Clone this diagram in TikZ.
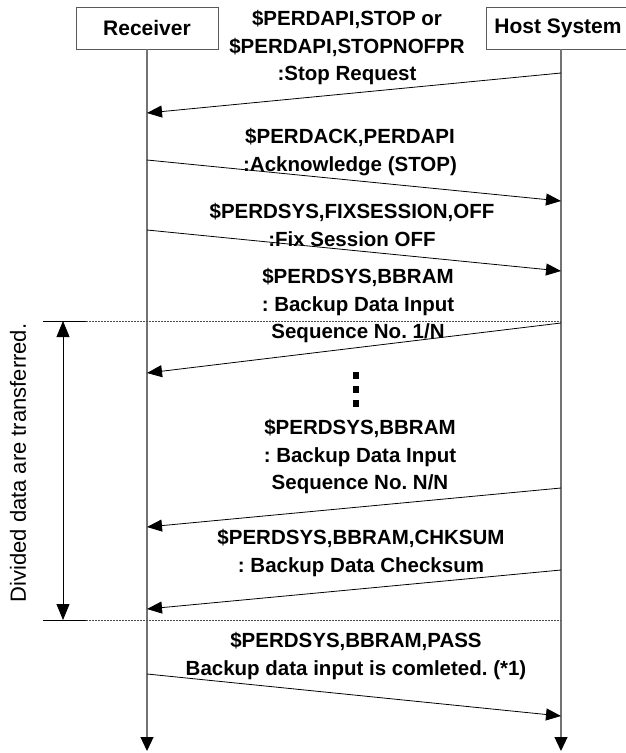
\documentclass[tikz,border=0pt]{standalone}
\usepackage{fontspec}
\setmainfont{Liberation Sans}
\usetikzlibrary{arrows.meta,positioning,calc}

\tikzset{
  party/.style={draw=black!65, rectangle, minimum height=42pt, inner sep=0pt,
    font=\fontsize{21}{24}\selectfont\bfseries},
  lifeline/.style={draw=black!55, line width=1.2pt, -{Triangle[length=14pt,width=13pt,color=black]}},
  msg/.style={draw, line width=0.8pt, -{Triangle[length=15pt,width=12pt]}},
  msgtext/.style={align=center, inner sep=0pt, font=\fontsize{20.5}{27.5}\selectfont\bfseries\frenchspacing},
  sepline/.style={draw=black!70, line width=0.6pt, dash pattern=on 2pt off 1pt},
  tickline/.style={draw, line width=0.8pt},
  span/.style={draw, line width=0.8pt, {Triangle[length=16pt,width=13pt]}-{Triangle[length=16pt,width=13pt]}},
  dotbox/.style={fill, rectangle, minimum width=6pt, minimum height=7pt, inner sep=0pt}
}

\begin{document}
\begin{tikzpicture}[x=1pt, y=-1pt]
    \useasboundingbox (0,0) rectangle (625,753);

    % Parties
    \node[party, minimum width=142pt] (rx) at (147,28) {Receiver};
    \node[party, minimum width=144pt] (host) at (558,28) {Host System};
    \coordinate (host-top) at (561,49);
    \coordinate (rx-end) at (147,751);
    \coordinate (host-end) at (561,751);

    \draw[lifeline] (rx.south) -- (rx-end);
    \draw[lifeline] (host-top) -- (host-end);

    % Stop request
    \coordinate (host-a) at (561,73);
    \coordinate (rx-a) at (147,113);
    \node[msgtext] (stop-text) at (347,48) {\$PERDAPI,STOP or\\\$PERDAPI,STOPNOFPR\\:Stop Request};
    \draw[msg] (host-a) -- (rx-a);

    % Acknowledge
    \coordinate (rx-b) at (147,160);
    \coordinate (host-b) at (561,201);
    \node[msgtext] (ack-text) at (350,152) {\$PERDACK,PERDAPI\\:Acknowledge (STOP)};
    \draw[msg] (rx-b) -- (host-b);

    % Fix session off
    \coordinate (rx-c) at (147,230);
    \coordinate (host-c) at (561,271);
    \node[msgtext] (fix-text) at (352,225) {\$PERDSYS,FIXSESSION,OFF\\:Fix Session OFF};
    \draw[msg] (rx-c) -- (host-c);

    % Separators
    \coordinate (tick-top-l) at (43,321);
    \coordinate (tick-top-r) at (86,321);
    \coordinate (sep-top) at (561,321);
    \coordinate (tick-bot-l) at (43,620);
    \coordinate (tick-bot-r) at (86,620);
    \coordinate (sep-bot) at (561,620);
    \draw[tickline] (tick-top-l) -- (tick-top-r);
    \draw[sepline] (tick-top-r) -- (sep-top);
    \draw[tickline] (tick-bot-l) -- (tick-bot-r);
    \draw[sepline] (tick-bot-r) -- (sep-bot);

    % Backup data 1/N
    \coordinate (host-d) at (561,323);
    \coordinate (rx-d) at (147,373);
    \node[msgtext] (seq1-text) at (358,306) {\$PERDSYS,BBRAM\\: Backup Data Input\\Sequence No. 1/N};
    \draw[msg] (host-d) -- (rx-d);

    \foreach \y [count=\i] in {375,389,403}
        \node[dotbox] (dot-\i) at (356,\y) {};

    % Backup data N/N
    \coordinate (host-e) at (561,488);
    \coordinate (rx-e) at (147,527);
    \node[msgtext] (seqn-text) at (360,457) {\$PERDSYS,BBRAM\\: Backup Data Input\\Sequence No. N/N};
    \draw[msg] (host-e) -- (rx-e);

    % Checksum
    \coordinate (host-f) at (561,570);
    \coordinate (rx-f) at (147,609);
    \node[msgtext] (sum-text) at (361,553) {\$PERDSYS,BBRAM,CHKSUM\\: Backup Data Checksum};
    \draw[msg] (host-f) -- (rx-f);

    % Pass
    \coordinate (rx-g) at (147,674);
    \coordinate (host-g) at (561,716);
    \node[msgtext] (pass-text) at (356,656) {\$PERDSYS,BBRAM,PASS\\Backup data input is comleted. (*1)};
    \draw[msg] (rx-g) -- (host-g);

    % Divided span
    \coordinate (span-top) at (63,321);
    \coordinate (span-bot) at (63,620);
    \draw[span] (span-bot) -- (span-top);
    \node[rotate=90, font=\fontsize{22}{26}\selectfont] (span-text) at (18,463) {Divided data are transferred.};
\end{tikzpicture}
\end{document}
